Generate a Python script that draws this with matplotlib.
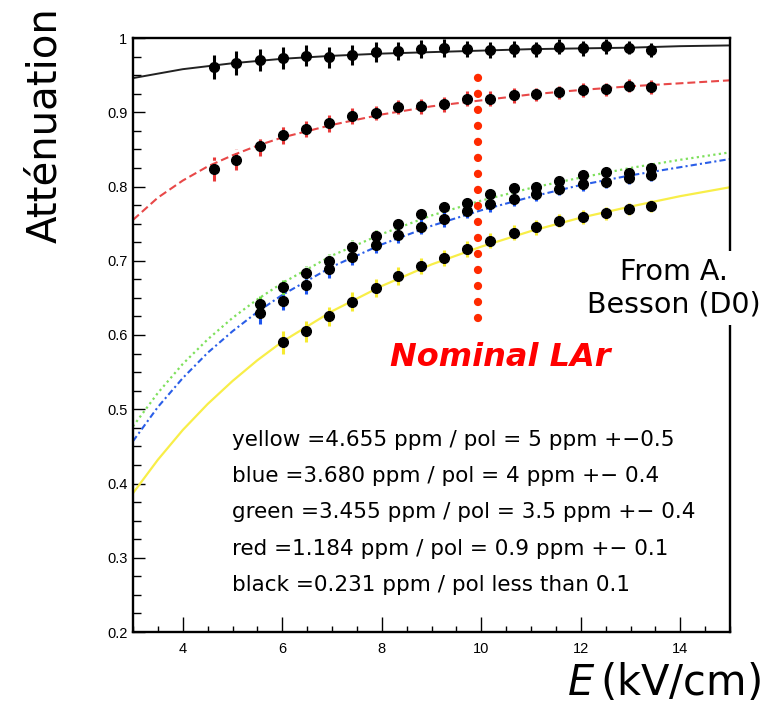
import matplotlib
matplotlib.use('Agg')
import matplotlib.pyplot as plt
from matplotlib.ticker import MultipleLocator, FuncFormatter

# Measured points: drift field (kV/cm) and attenuation
field = [4.62, 5.08, 5.55, 6.01, 6.47, 6.94, 7.40, 7.88, 8.32, 8.79,
         9.25, 9.71, 10.18, 10.65, 11.11, 11.57, 12.04, 12.50, 12.97, 13.42]

black_att = [0.961, 0.966, 0.970, 0.973, 0.976, 0.974, 0.977, 0.981, 0.982, 0.985,
             0.986, 0.985, 0.984, 0.985, 0.985, 0.988, 0.986, 0.989, 0.987, 0.984]
black_err = [0.016, 0.016, 0.015, 0.015, 0.014, 0.014, 0.013, 0.013, 0.012, 0.012,
             0.012, 0.011, 0.011, 0.011, 0.010, 0.010, 0.010, 0.010, 0.009, 0.009]

red_att = [0.824, 0.836, 0.854, 0.869, 0.877, 0.885, 0.895, 0.899, 0.907, 0.908,
           0.911, 0.918, 0.918, 0.923, 0.924, 0.927, 0.930, 0.931, 0.936, 0.934]
red_err = [0.016, 0.014, 0.013, 0.012, 0.011, 0.011, 0.011, 0.010, 0.010, 0.010,
           0.010, 0.010, 0.010, 0.010, 0.009, 0.009, 0.009, 0.009, 0.009, 0.009]

# green and blue start at the 3rd field value, yellow at the 4th
green_att = [0.642, 0.664, 0.684, 0.700, 0.719, 0.733, 0.750, 0.763, 0.773,
             0.778, 0.790, 0.798, 0.800, 0.807, 0.816, 0.819, 0.818, 0.825]
green_err = [0.010, 0.010, 0.009, 0.009, 0.009, 0.009, 0.008, 0.008, 0.008,
             0.008, 0.008, 0.007, 0.007, 0.007, 0.007, 0.007, 0.007, 0.007]

blue_att = [0.629, 0.646, 0.667, 0.689, 0.705, 0.721, 0.735, 0.746, 0.756,
            0.767, 0.776, 0.783, 0.790, 0.797, 0.803, 0.806, 0.811, 0.816]
blue_err = [0.014, 0.013, 0.012, 0.012, 0.011, 0.011, 0.011, 0.010, 0.010,
            0.010, 0.010, 0.009, 0.009, 0.009, 0.009, 0.008, 0.008, 0.008]

yellow_att = [0.590, 0.605, 0.625, 0.645, 0.663, 0.680, 0.693, 0.704, 0.716,
              0.727, 0.738, 0.745, 0.754, 0.759, 0.764, 0.770, 0.774]
yellow_err = [0.015, 0.014, 0.013, 0.013, 0.012, 0.012, 0.011, 0.011, 0.011,
              0.010, 0.010, 0.010, 0.009, 0.009, 0.009, 0.008, 0.008]

# Fitted curves
fit_field = [3, 3.5, 4, 4.5, 5, 5.5, 6, 7, 8, 9, 10, 11, 12, 13, 14, 15]
black_fit = [0.946, 0.952, 0.958, 0.962, 0.966, 0.969, 0.972, 0.976,
             0.979, 0.981, 0.983, 0.985, 0.986, 0.987, 0.989, 0.990]
red_fit = [0.755, 0.785, 0.808, 0.827, 0.842, 0.855, 0.866, 0.883,
           0.897, 0.908, 0.916, 0.924, 0.930, 0.935, 0.939, 0.943]
green_fit = [0.477, 0.522, 0.561, 0.594, 0.623, 0.648, 0.670, 0.707,
             0.736, 0.761, 0.781, 0.798, 0.812, 0.825, 0.836, 0.846]
blue_fit = [0.457, 0.503, 0.542, 0.576, 0.605, 0.631, 0.654, 0.692,
            0.722, 0.747, 0.768, 0.786, 0.802, 0.815, 0.826, 0.837]
yellow_fit = [0.387, 0.432, 0.472, 0.507, 0.538, 0.566, 0.591, 0.632,
              0.666, 0.695, 0.719, 0.740, 0.758, 0.773, 0.787, 0.799]

# Nominal LAr field marker
nominal_field = [9.93, 9.93]
nominal_span = [0.623, 0.967]

legend_lines = [
    'yellow =4.655 ppm / pol = 5 ppm +\u22120.5',
    'blue =3.680 ppm / pol = 4 ppm +\u2212 0.4',
    'green =3.455 ppm / pol = 3.5 ppm +\u2212 0.4',
    'red =1.184 ppm / pol = 0.9 ppm +\u2212 0.1',
    'black =0.231 ppm / pol less than 0.1',
]

W, H = 776, 705
fig = plt.figure(figsize=(W / 100, H / 100), dpi=100)
ax = fig.add_axes([133 / W, 1 - 632 / H, (730 - 133) / W, (632 - 38) / H])

# fit curves
ax.plot(fit_field, black_fit, color='#222222', lw=1.4, zorder=2)
ax.plot(fit_field, red_fit, color='#e84848', lw=1.5, ls=(0, (3.8, 1.9)), zorder=2)
ax.plot(fit_field, green_fit, color='#7ee05c', lw=1.6, ls=(0, (1, 1.5)), zorder=2)
ax.plot(fit_field, blue_fit, color='#2a5ee8', lw=1.5, ls=(0, (3, 1.5, 1, 1.5)), zorder=2)
ax.plot(fit_field, yellow_fit, color='#f8ee48', lw=1.6, zorder=2)

# data with error bars (colour & style of the bars follows the series)
series = [
    (field[3:], yellow_att, yellow_err, '#f6ea30', '-'),
    (field[2:], green_att, green_err, '#6fdc4c', (0, (1, 1))),
    (field[2:], blue_att, blue_err, '#1d55ee', (0, (3, 1, 1, 1))),
    (field, red_att, red_err, '#e83a3a', (0, (2.2, 1.2))),
    (field, black_att, black_err, 'black', '-'),
]
for x, y, err, col, style in series:
    eb = ax.errorbar(x, y, yerr=err, fmt='o', color='black', ecolor=col,
                     elinewidth=2.2, capsize=0, markersize=7, zorder=3)
    eb.lines[2][0].set_linestyle(style)

ax.plot(nominal_field, nominal_span, color='#ff2a00', lw=6.0,
        ls=(0, (0.001, 1.92)), dash_capstyle='round', zorder=5)

ax.set_xlim(3, 15)
ax.set_ylim(0.2, 1.0)
ax.xaxis.set_major_locator(MultipleLocator(2))
ax.xaxis.set_minor_locator(MultipleLocator(0.5))
ax.yaxis.set_major_locator(MultipleLocator(0.1))
ax.yaxis.set_minor_locator(MultipleLocator(0.025))
ax.yaxis.set_major_formatter(FuncFormatter(lambda v, p: '%g' % round(v, 2)))
ax.tick_params(axis='both', which='both', direction='in', top=False, right=False,
               labelsize=10.5, width=1.0)
ax.tick_params(axis='x', which='major', length=10.5, pad=7)
ax.tick_params(axis='x', which='minor', length=4.5)
ax.tick_params(axis='y', which='major', length=8.5, pad=4)
ax.tick_params(axis='y', which='minor', length=5.5)
for lab in ax.get_xticklabels() + ax.get_yticklabels():
    lab.set_family('Liberation Sans')
for sp in ax.spines.values():
    sp.set_linewidth(1.7)

# texts
fig.text(45 / W, 1 - 125 / H, 'Atténuation', rotation=90, fontsize=29,
         ha='center', va='center')
fig.text(664 / W, 1 - 683 / H, r'$E\,$(kV/cm)', fontsize=30,
         ha='center', va='center')
fig.text(674 / W, 1 - 288 / H, 'From A.\nBesson (D0)', fontsize=20.5,
         ha='center', va='center', linespacing=1.2,
         bbox=dict(facecolor='white', edgecolor='none', pad=5))
fig.text(500 / W, 1 - 358 / H, 'Nominal LAr', color='red', fontsize=23,
         fontweight='bold', fontstyle='italic', ha='center', va='center')

for i, line in enumerate(legend_lines):
    fig.text(232 / W, 1 - (440 + 36.2 * i) / H, line, fontsize=15.5,
             family='DejaVu Sans', ha='left', va='center')

fig.savefig('out.png', dpi=100)
